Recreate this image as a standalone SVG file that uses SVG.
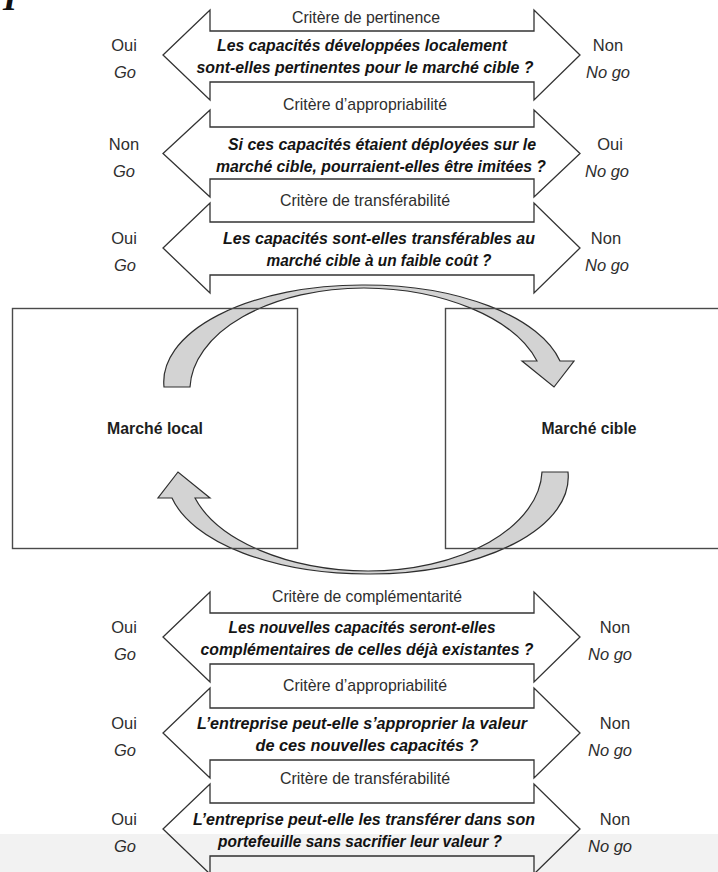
<svg xmlns="http://www.w3.org/2000/svg" width="718" height="872" viewBox="0 0 718 872">
  <style>
    .dbl { fill: #ffffff; stroke: #333333; stroke-width: 1.3; stroke-linejoin: miter; }
    .mkt { fill: none; stroke: #4a4a4a; stroke-width: 1.4; }
    .loop { fill: #d3d3d3; stroke: #2e2e2e; stroke-width: 1.2; stroke-linejoin: miter; }
    text { font-family: "Liberation Sans", Arial, sans-serif; font-size: 16.5px; text-anchor: middle; }
    .crit { fill: #2e2e2e; font-size: 17px; }
    .q { fill: #141414; font-size: 17px; font-weight: bold; font-style: italic; }
    .ans { fill: #2e2e2e; }
    .dec { fill: #2e2e2e; font-style: italic; }
    .mname { fill: #1e1e1e; font-size: 17px; font-weight: bold; }
  </style>

  <rect width="718" height="872" fill="#ffffff"/>

  <!-- fragment of a heading letter at the top edge -->
  <text x="10" y="10" style="font-family:'Liberation Serif','Times New Roman',serif;font-size:36px;font-weight:bold;font-style:italic;fill:#111111">I</text>

  <!-- market boxes (background) -->
  <g id="marche-local">
    <rect x="12.5" y="308.5" width="285" height="240" fill="#ffffff"/>
    <text class="mname" x="155" y="434" textLength="96" lengthAdjust="spacingAndGlyphs">Marché local</text>
  </g>
  <g id="marche-cible">
    <rect x="445.5" y="308.5" width="290" height="240" fill="#ffffff"/>
    <text class="mname" x="589" y="434" textLength="95" lengthAdjust="spacingAndGlyphs">Marché cible</text>
  </g>

  <!-- transfer loop between the two markets -->
  <g id="connectors">
    <path id="transfer-out" class="loop" d="M164,387 A198,97 0 0 1 362,285 A200,97 0 0 1 560,361 L574,361 L554,387 L522,361 L537,361 A183,102 0 0 0 364,288 A174,102 0 0 0 190,387 Z"/>
    <path id="transfer-back" class="loop" transform="rotate(180 366 429.5)" d="M164,387 A198,97 0 0 1 362,285 A200,97 0 0 1 560,361 L574,361 L554,387 L522,361 L537,361 A183,102 0 0 0 364,288 A174,102 0 0 0 190,387 Z"/>
  </g>

  <!-- market box outlines drawn over the loop -->
  <rect class="mkt" x="12.5" y="308.5" width="285" height="240"/>
  <rect class="mkt" x="445.5" y="308.5" width="290" height="240"/>

  <!-- criteria: local capabilities -->
  <g id="critere-pertinence">
    <polygon class="dbl" points="210,31 210,10 163,55 210,100 210,82 534,82 534,100 580,55 534,10 534,31"/>
    <text class="crit" x="366" y="23" textLength="148" lengthAdjust="spacingAndGlyphs">Critère de pertinence</text>
    <text class="q" x="362" y="51" textLength="290" lengthAdjust="spacingAndGlyphs">Les capacités développées localement</text>
    <text class="q" x="365" y="73" textLength="337" lengthAdjust="spacingAndGlyphs">sont-elles pertinentes pour le marché cible ?</text>
    <text class="ans" x="124" y="51">Oui</text>
    <text class="dec" x="125" y="78">Go</text>
    <text class="ans" x="608" y="51">Non</text>
    <text class="dec" x="608" y="78">No go</text>
  </g>

  <g id="critere-appropriabilite-1">
    <polygon class="dbl" points="210,127 210,110 163,153.5 210,197 210,179 534,179 534,197 580,153.5 534,110 534,127"/>
    <text class="crit" x="365" y="110" textLength="164" lengthAdjust="spacingAndGlyphs">Critère d’appropriabilité</text>
    <text class="q" x="382" y="149.5" textLength="308" lengthAdjust="spacingAndGlyphs">Si ces capacités étaient déployées sur le</text>
    <text class="q" x="381" y="171.5" textLength="330" lengthAdjust="spacingAndGlyphs">marché cible, pourraient-elles être imitées ?</text>
    <text class="ans" x="124" y="149.5">Non</text>
    <text class="dec" x="124" y="176.5">Go</text>
    <text class="ans" x="610" y="149.5">Oui</text>
    <text class="dec" x="607" y="176.5">No go</text>
  </g>

  <g id="critere-transferabilite-1">
    <polygon class="dbl" points="210,222 210,203 163,248 210,293 210,275 534,275 534,293 580,248 534,203 534,222"/>
    <text class="crit" x="365" y="206" textLength="170" lengthAdjust="spacingAndGlyphs">Critère de transférabilité</text>
    <text class="q" x="379" y="244" textLength="312" lengthAdjust="spacingAndGlyphs">Les capacités sont-elles transférables au</text>
    <text class="q" x="379" y="266" textLength="225" lengthAdjust="spacingAndGlyphs">marché cible à un faible coût ?</text>
    <text class="ans" x="124" y="244">Oui</text>
    <text class="dec" x="125" y="271">Go</text>
    <text class="ans" x="606" y="244">Non</text>
    <text class="dec" x="607" y="271">No go</text>
  </g>

  <!-- criteria: new capabilities -->
  <g id="critere-complementarite">
    <polygon class="dbl" points="210,613 210,592 163,637 210,682 210,664 534,664 534,682 580,637 534,592 534,613"/>
    <text class="crit" x="367" y="602" textLength="190" lengthAdjust="spacingAndGlyphs">Critère de complémentarité</text>
    <text class="q" x="362" y="633" textLength="267" lengthAdjust="spacingAndGlyphs">Les nouvelles capacités seront-elles</text>
    <text class="q" x="367" y="655" textLength="333" lengthAdjust="spacingAndGlyphs">complémentaires de celles déjà existantes ?</text>
    <text class="ans" x="124" y="633">Oui</text>
    <text class="dec" x="125" y="660">Go</text>
    <text class="ans" x="615" y="633">Non</text>
    <text class="dec" x="610" y="660">No go</text>
  </g>

  <g id="critere-appropriabilite-2">
    <polygon class="dbl" points="210,708 210,688 163,733 210,778 210,760 534,760 534,778 580,733 534,688 534,708"/>
    <text class="crit" x="365" y="691" textLength="164" lengthAdjust="spacingAndGlyphs">Critère d’appropriabilité</text>
    <text class="q" x="362" y="729" textLength="330" lengthAdjust="spacingAndGlyphs">L’entreprise peut-elle s’approprier la valeur</text>
    <text class="q" x="367" y="751" textLength="223" lengthAdjust="spacingAndGlyphs">de ces nouvelles capacités ?</text>
    <text class="ans" x="124" y="729">Oui</text>
    <text class="dec" x="125" y="756">Go</text>
    <text class="ans" x="615" y="729">Non</text>
    <text class="dec" x="610" y="756">No go</text>
  </g>

  <g id="critere-transferabilite-2">
    <polygon class="dbl" points="210,803 210,784 163,829 210,874 210,856 534,856 534,874 580,829 534,784 534,803"/>
    <text class="crit" x="365" y="784" textLength="170" lengthAdjust="spacingAndGlyphs">Critère de transférabilité</text>
    <text class="q" x="364" y="825" textLength="342" lengthAdjust="spacingAndGlyphs">L’entreprise peut-elle les transférer dans son</text>
    <text class="q" x="360" y="847" textLength="284" lengthAdjust="spacingAndGlyphs">portefeuille sans sacrifier leur valeur ?</text>
    <text class="ans" x="124" y="825">Oui</text>
    <text class="dec" x="125" y="852">Go</text>
    <text class="ans" x="615" y="825">Non</text>
    <text class="dec" x="610" y="852">No go</text>
  </g>

  <!-- light grey strip along the bottom edge -->
  <rect x="0" y="834" width="718" height="38" fill="#000000" fill-opacity="0.05"/>
</svg>
